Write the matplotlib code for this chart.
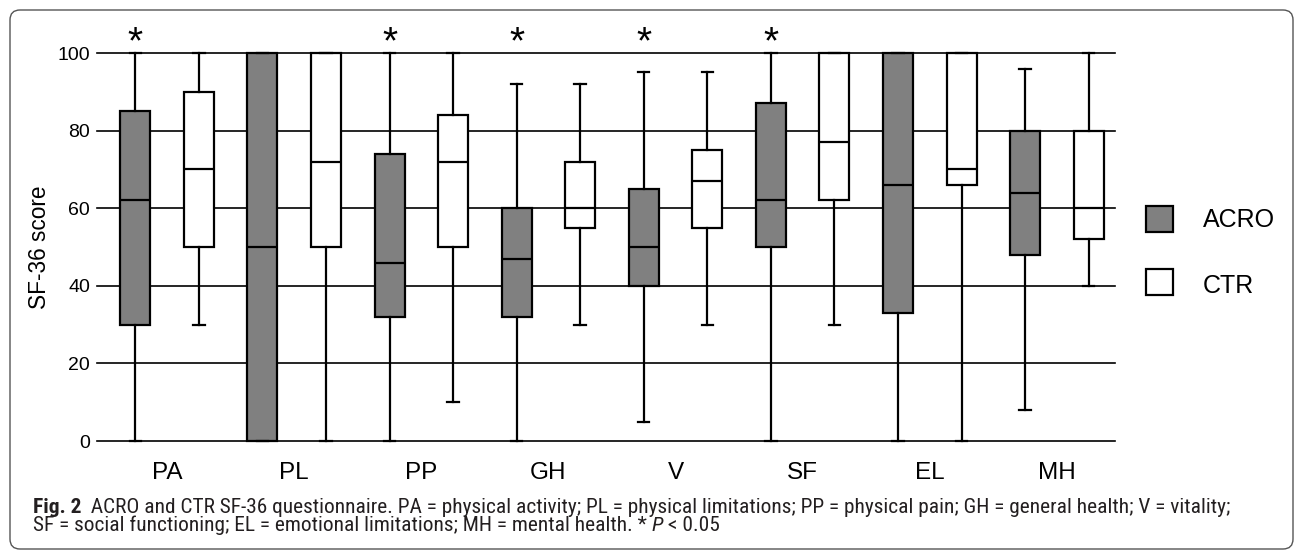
import matplotlib
matplotlib.use('Agg')
import matplotlib.pyplot as plt
from matplotlib.patches import FancyBboxPatch, Rectangle
from matplotlib.transforms import IdentityTransform
from matplotlib import font_manager as fm

# ---------------- data ----------------
categories = ['PA', 'PL', 'PP', 'GH', 'V', 'SF', 'EL', 'MH']
groups = ['ACRO', 'CTR']

acro_min = [0, 0, 0, 0, 5, 0, 0, 8]
acro_q1 = [30, 0, 32, 32, 40, 50, 33, 48]
acro_med = [62, 50, 46, 47, 50, 62, 66, 64]
acro_q3 = [85, 100, 74, 60, 65, 87, 100, 80]
acro_max = [100, 100, 100, 92, 95, 100, 100, 96]

ctr_min = [30, 0, 10, 30, 30, 30, 0, 40]
ctr_q1 = [50, 50, 50, 55, 55, 62, 66, 52]
ctr_med = [70, 72, 72, 60, 67, 77, 70, 60]
ctr_q3 = [90, 100, 84, 72, 75, 100, 100, 80]
ctr_max = [100, 100, 100, 92, 95, 100, 100, 100]

significant = [True, False, True, True, True, True, False, False]
y_ticks = [0, 20, 40, 60, 80, 100]

# ---------------- figure ----------------
W, H, DPI = 1295, 550, 100
plt.rcParams['font.family'] = ['Liberation Sans', 'DejaVu Sans']
fig = plt.figure(figsize=(W / DPI, H / DPI), dpi=DPI)
fig.patch.set_facecolor('white')

ax = fig.add_axes([97 / W, 1 - 441 / H, (1115 - 97) / W, (441 - 53) / H])


def make_stats(lo, q1, med, q3, hi):
    return [dict(whislo=a, q1=b, med=c, q3=d, whishi=e, fliers=[])
            for a, b, c, d, e in zip(lo, q1, med, q3, hi)]


lw = 1.6
common = dict(widths=0.236, capwidths=0.09, patch_artist=True, showfliers=False,
              manage_ticks=False,
              medianprops=dict(color='black', linewidth=lw),
              whiskerprops=dict(color='black', linewidth=lw),
              capprops=dict(color='black', linewidth=lw))

pos_acro = [i - 0.25 for i in range(len(categories))]
pos_ctr = [i + 0.25 for i in range(len(categories))]

b1 = ax.bxp(make_stats(acro_min, acro_q1, acro_med, acro_q3, acro_max),
            positions=pos_acro,
            boxprops=dict(facecolor='#808080', edgecolor='black', linewidth=lw),
            **common)
b2 = ax.bxp(make_stats(ctr_min, ctr_q1, ctr_med, ctr_q3, ctr_max),
            positions=pos_ctr,
            boxprops=dict(facecolor='white', edgecolor='black', linewidth=lw),
            **common)
for b in (b1, b2):
    for key in b:
        for art in b[key]:
            art.set_clip_on(False)
            art.set_zorder(3)

ax.set_xlim(-0.551, 7.457)
ax.set_ylim(0, 100)
ax.set_yticks(y_ticks)
ax.set_yticklabels([str(v) for v in y_ticks], fontsize=14)
ax.set_xticks(range(len(categories)))
ax.set_xticklabels(categories, fontsize=17.5)
ax.tick_params(axis='both', length=0)
ax.tick_params(axis='y', pad=5)
ax.tick_params(axis='x', pad=15)
ax.grid(axis='y', color='black', linewidth=1.2)
ax.set_axisbelow(True)
for gl in ax.get_ygridlines():
    gl.set_clip_on(False)
for s in ax.spines.values():
    s.set_visible(False)

ax.set_ylabel('SF-36 score', fontsize=16.3, va='center')
ax.yaxis.set_label_coords((39 - 97) / 1018, 0.5)

for p, sig in zip(pos_acro, significant):
    if sig:
        ax.text(p, 100, '*', ha='center', va='baseline', fontsize=28, clip_on=False)

# ---------------- legend ----------------
legend_items = [('ACRO', '#808080', 206, 227), ('CTR', 'white', 269, 293)]
for name, col, ytop, ybase in legend_items:
    fig.add_artist(Rectangle((1146 / W, 1 - (ytop + 26) / H), 27 / W, 26 / H,
                             transform=fig.transFigure, facecolor=col,
                             edgecolor='black', linewidth=lw))
    fig.text(1203 / W, 1 - ybase / H, name, fontsize=18, va='baseline', ha='left')

# ---------------- caption ----------------
cap_family = 'Open Sans'
for cand in ['Liberation Sans Narrow', 'Roboto Condensed', 'Open Sans Condensed']:
    try:
        fm.findfont(fm.FontProperties(family=cand), fallback_to_default=False)
        cap_family = cand
        break
    except Exception:
        pass

line1 = [('Fig. 2', 'bold', 'normal'),
         ('  ACRO and CTR SF-36 questionnaire. PA = physical activity; PL = physical limitations; '
          'PP = physical pain; GH = general health; V = vitality;', 'normal', 'normal')]
line2 = [('SF = social functioning; EL = emotional limitations; MH = mental health. * ', 'normal', 'normal'),
         ('P', 'normal', 'italic'),
         (' < 0.05', 'normal', 'normal')]

renderer = fig.canvas.get_renderer()


def draw_line(pieces, x0, ybase, size, keep=True):
    x = x0
    made = []
    for s, wgt, sty in pieces:
        t = fig.text(x / W, 1 - ybase / H, s, fontsize=size, fontweight=wgt,
                     fontstyle=sty, family=[cap_family, 'DejaVu Sans'],
                     color='#231f20', va='baseline', ha='left')
        x += t.get_window_extent(renderer=renderer).width
        made.append(t)
    if not keep:
        for t in made:
            t.remove()
    return x - x0


w10 = draw_line(line1, 33, 513, 10, keep=False)
cap_size = 10 * (1227 - 33) / w10
draw_line(line1, 33, 513, cap_size)
draw_line(line2, 33, 531, cap_size)

# ---------------- frame ----------------
fig.add_artist(FancyBboxPatch((10, 1), 1283, 539,
                              boxstyle='round,pad=0,rounding_size=10',
                              transform=IdentityTransform(), fill=False,
                              edgecolor='#555555', linewidth=1.0))

fig.savefig('out.png', dpi=DPI)
